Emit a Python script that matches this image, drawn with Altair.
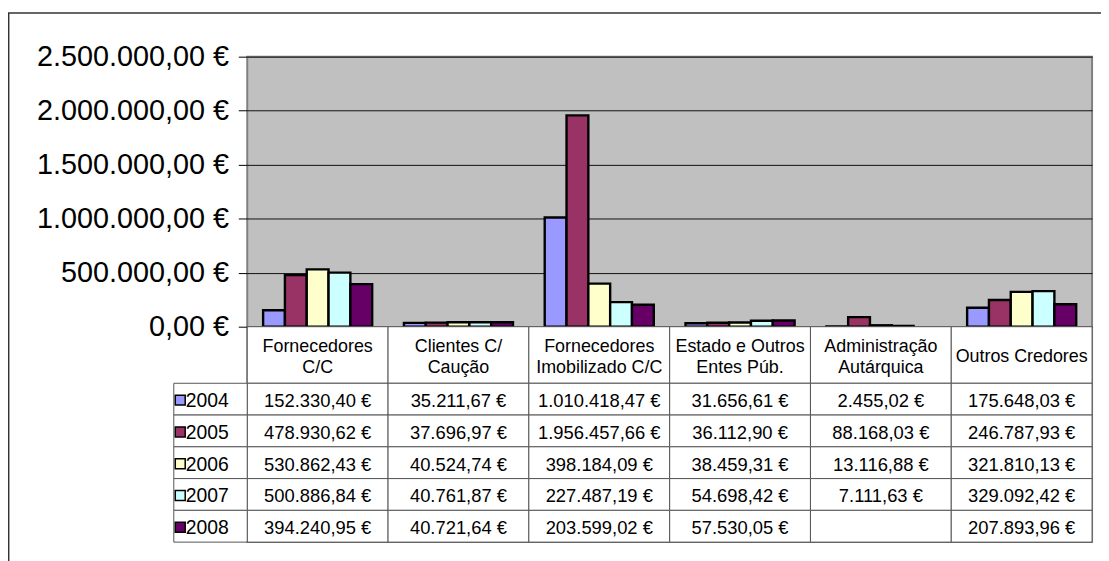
import altair as alt
import pandas as pd

categories = ["Fornecedores C/C", "Clientes C/ Caução", "Fornecedores Imobilizado C/C",
              "Estado e Outros Entes Púb.", "Administração Autárquica", "Outros Credores"]
header_line1 = ["Fornecedores", "Clientes C/", "Fornecedores",
                "Estado e Outros", "Administração", ""]
header_line2 = ["C/C", "Caução", "Imobilizado C/C", "Entes Púb.", "Autárquica", ""]
header_single = ["", "", "", "", "", "Outros Credores"]
years = ["2004", "2005", "2006", "2007", "2008"]
colors = ["#9999FF", "#993366", "#FFFFCC", "#CCFFFF", "#660066"]

v2004 = [152330.40, 35211.67, 1010418.47, 31656.61, 2455.02, 175648.03]
v2005 = [478930.62, 37696.97, 1956457.66, 36112.90, 88168.03, 246787.93]
v2006 = [530862.43, 40524.74, 398184.09, 38459.31, 13116.88, 321810.13]
v2007 = [500886.84, 40761.87, 227487.19, 54698.42, 7111.63, 329092.42]
v2008 = [394240.95, 40721.64, 203599.02, 57530.05, None, 207893.96]
series = [v2004, v2005, v2006, v2007, v2008]

y_ticks = [0, 500000, 1000000, 1500000, 2000000, 2500000]


def euro(v):
    if v is None:
        return ""
    s = f"{v:,.2f}".replace(",", "#").replace(".", ",").replace("#", ".")
    return s + " €"


rows = []
for y, vals in zip(years, series):
    for c, v in zip(categories, vals):
        rows.append({"cat": c, "year": y, "value": v, "label": euro(v)})
df = pd.DataFrame(rows)
df_bars = df.dropna(subset=["value"])
df_hdr = pd.DataFrame({"cat": categories, "l1": header_line1, "l2": header_line2,
                       "single": header_single, "row": "h"})
df_leg = pd.DataFrame({"year": years, "col": "legend"})
df_one = pd.DataFrame({"k": [0]})

FONT = "Liberation Sans"
BORDER = "#555555"


def xcat():
    return alt.Scale(type="band", domain=categories, paddingInner=0, paddingOuter=0)


year_color = alt.Color("year:N", scale=alt.Scale(domain=years, range=colors), legend=None)

# --- bars ---
bars = alt.Chart(df_bars).mark_bar(stroke="#000000", strokeWidth=2.4, strokeOpacity=1).encode(
    x=alt.X("cat:N", scale=xcat(), axis=None, sort=categories),
    xOffset=alt.XOffset("year:N", scale=alt.Scale(type="band", domain=years,
                                                  paddingInner=0, paddingOuter=0.727)),
    y=alt.Y("value:Q",
            scale=alt.Scale(domain=[0, 2500000], range=[272, 0], nice=False, zero=True),
            axis=alt.Axis(values=y_ticks, format="$,.2f", title=None,
                          labelFontSize=29, labelColor="black", labelPadding=10,
                          labelFont=FONT, labelLimit=400,
                          tickSize=9, tickColor="black", tickWidth=1,
                          domain=False, grid=True, gridColor="#111111", gridWidth=1)),
    color=year_color,
)

# --- header row ---
hdr_y = alt.Y("row:N", scale=alt.Scale(type="band", domain=["h"], range=[272, 329],
                                        paddingInner=0, paddingOuter=0), axis=None)
hdr_x = alt.X("cat:N", scale=xcat(), axis=None)
hdr_cells = alt.Chart(df_hdr).mark_rect(fill="white", stroke=BORDER, strokeWidth=1).encode(
    x=hdr_x, y=hdr_y)
hdr_t1 = alt.Chart(df_hdr).mark_text(fontSize=18, baseline="middle", dy=-8,
                                     color="black").encode(x=hdr_x, y=hdr_y, text="l1:N")
hdr_t2 = alt.Chart(df_hdr).mark_text(fontSize=18, baseline="middle", dy=13.5,
                                     color="black").encode(x=hdr_x, y=hdr_y, text="l2:N")
hdr_t0 = alt.Chart(df_hdr).mark_text(fontSize=18, baseline="middle", dy=2.5,
                                     color="black").encode(x=hdr_x, y=hdr_y, text="single:N")
header = alt.layer(hdr_cells, hdr_t1, hdr_t2, hdr_t0)

# --- data table ---
tab_y = alt.Y("year:N", scale=alt.Scale(type="band", domain=years, range=[329, 489],
                                         paddingInner=0, paddingOuter=0), axis=None)
tab_x = alt.X("cat:N", scale=xcat(), axis=None)
tab_cells = alt.Chart(df).mark_rect(fill="white", stroke=BORDER, strokeWidth=1).encode(
    x=tab_x, y=tab_y)
tab_text = alt.Chart(df).mark_text(fontSize=18.5, baseline="middle", dy=2,
                                   color="black").encode(
    x=tab_x, y=tab_y, text="label:N")
table = alt.layer(tab_cells, tab_text)

# --- legend column ---
leg_x = alt.X("col:N", scale=alt.Scale(type="band", domain=["legend"], range=[-74, 0],
                                        paddingInner=0, paddingOuter=0), axis=None)
leg_cells = alt.Chart(df_leg).mark_rect(fill="white", stroke=BORDER, strokeWidth=1).encode(
    x=leg_x, y=tab_y)
leg_sq = alt.Chart(df_leg).mark_point(shape="square", filled=True, size=100, stroke="black",
                                      strokeWidth=1.5, opacity=1, xOffset=-30.5,
                                      yOffset=1).encode(
    x=leg_x, y=tab_y, color=year_color)
leg_text = alt.Chart(df_leg).mark_text(align="left", dx=-25, dy=2, fontSize=19.5,
                                       baseline="middle", color="black").encode(
    x=leg_x, y=tab_y, text="year:N")
legend = alt.layer(leg_cells, leg_sq, leg_text)

# --- outer frame (decoration) ---
frame_l = alt.Chart(df_one).mark_rule(color="#333333", strokeWidth=1.5).encode(
    x=alt.value(-240.3), y=alt.value(-44), y2=alt.value(700))
frame_t = alt.Chart(df_one).mark_rule(color="#333333", strokeWidth=1.5).encode(
    x=alt.value(-241), x2=alt.value(1000), y=alt.value(-44))

chart = alt.layer(bars, header, table, legend, frame_l, frame_t).resolve_scale(
    x="independent", y="independent"
).properties(
    width=851, height=489,
    autosize=alt.AutoSizeParams(type="none"),
    padding={"left": 241, "top": 47, "right": 9, "bottom": 17},
).configure(
    font=FONT,
    locale={"number": {"decimal": ",", "thousands": ".", "grouping": [3],
                       "currency": ["", " €"]}},
).configure_view(
    fill="#C0C0C0", stroke="#808080", strokeWidth=2
)

chart.save("out.html", embed_options={"renderer": "svg", "actions": False})
